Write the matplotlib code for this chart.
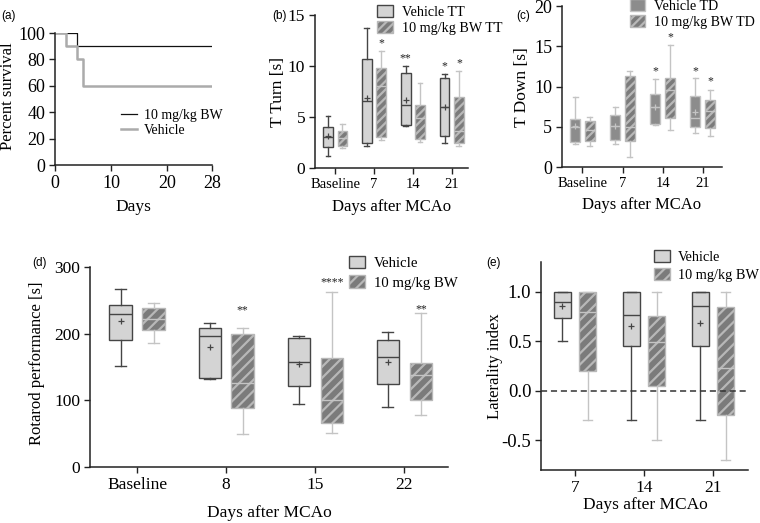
import matplotlib
matplotlib.use('Agg')
import matplotlib.pyplot as plt
from matplotlib.patches import Patch
from matplotlib.lines import Line2D

plt.rcParams['font.family'] = ['Liberation Serif', 'DejaVu Serif']
plt.rcParams['axes.unicode_minus'] = False
plt.rcParams['hatch.linewidth'] = 1.6

# ---------------- data ----------------
# (a) survival
surv_days_bw = [0, 4, 28]
surv_bw = [100, 90, 90]
surv_days_veh = [0, 2, 4, 5, 28]
surv_veh = [100, 90, 80, 60, 60]

# (b) T Turn
b_groups = ['Baseline', '7', '14', '21']
b_veh_whislo = [1.2, 2.15, 4.1, 2.5]
b_veh_q1 = [2.05, 2.45, 4.25, 3.1]
b_veh_med = [3.0, 6.6, 6.2, 5.95]
b_veh_q3 = [4.0, 10.7, 9.3, 8.85]
b_veh_whishi = [5.05, 13.7, 10.0, 9.2]
b_veh_mean = [3.1, 6.85, 6.7, 5.95]
b_bw_whislo = [1.95, 2.75, 2.55, 2.2]
b_bw_q1 = [2.15, 3.05, 2.8, 2.45]
b_bw_med = [2.9, 8.05, 4.95, 3.6]
b_bw_q3 = [3.65, 9.8, 6.2, 7.0]
b_bw_whishi = [4.3, 11.5, 8.3, 9.55]
b_sig_group = [1, 2, 3, 3]
b_sig_series = ['bw', 'veh', 'veh', 'bw']
b_sig_text = ['*', '**', '*', '*']
b_sig_y = [12.5, 11.1, 10.3, 10.6]

# (c) T Down
c_groups = ['Baseline', '7', '14', '21']
c_veh_whislo = [2.85, 2.85, 5.2, 4.27]
c_veh_q1 = [3.15, 3.3, 5.4, 4.93]
c_veh_med = [5.0, 5.1, 7.4, 6.13]
c_veh_q3 = [5.95, 6.5, 9.1, 8.86]
c_veh_whishi = [8.75, 7.4, 10.9, 11.0]
c_veh_mean = [5.1, 5.1, 7.5, 6.87]
c_bw_whislo = [2.6, 1.2, 4.6, 3.9]
c_bw_q1 = [3.2, 3.2, 6.12, 4.9]
c_bw_med = [4.6, 4.95, 9.55, 7.0]
c_bw_q3 = [5.75, 11.35, 11.1, 8.32]
c_bw_whishi = [6.25, 11.97, 15.15, 9.56]
c_sig_group = [2, 2, 3, 3]
c_sig_series = ['veh', 'bw', 'veh', 'bw']
c_sig_text = ['*', '*', '*', '*']
c_sig_y = [12.3, 16.5, 12.26, 11.0]

# (d) Rotarod
d_groups = ['Baseline', '8', '15', '22']
d_veh_whislo = [151.5, 131.5, 95, 90]
d_veh_q1 = [190, 134, 121, 124]
d_veh_med = [229.5, 196.5, 158, 164.6]
d_veh_q3 = [243, 209, 193, 191]
d_veh_whishi = [267, 216.5, 197, 202]
d_veh_mean = [219, 179.5, 154.5, 157]
d_bw_whislo = [186.5, 50, 51, 78]
d_bw_q1 = [205.5, 89, 66, 101]
d_bw_med = [221.5, 126, 100, 138]
d_bw_q3 = [238, 200, 164, 156.5]
d_bw_whishi = [245.5, 208, 262, 231]
d_sig_group = [1, 2, 3]
d_sig_series = ['bw', 'bw', 'bw']
d_sig_text = ['**', '****', '**']
d_sig_y = [240, 282, 241.5]

# (e) Laterality index
e_groups = ['7', '14', '21']
e_veh_whislo = [0.5, -0.3, -0.3]
e_veh_q1 = [0.73, 0.45, 0.45]
e_veh_med = [0.9, 0.76, 0.855]
e_veh_q3 = [1.0, 1.0, 1.0]
e_veh_whishi = [1.0, 1.0, 1.0]
e_veh_mean = [0.855, 0.65, 0.68]
e_bw_whislo = [-0.3, -0.5, -0.7]
e_bw_q1 = [0.2, 0.05, -0.245]
e_bw_med = [0.8, 0.495, 0.23]
e_bw_q3 = [1.0, 0.75, 0.85]
e_bw_whishi = [1.0, 1.0, 1.0]

# ---------------- style ----------------
LIGHT = '#d4d4d4'
DARK = '#454545'
BWFACE = '#7b7b7b'
BWHATCH = '#b8b8b8'
MIDFACE = '#8c8c8c'
PALE = '#c4c4c4'
OFF = 0.185
BW_W = 0.25

W, H = 760, 523
fig = plt.figure(figsize=(7.6, 5.23), dpi=100)


def add_axes(l, t, r, b):
    ax = fig.add_axes([l / W, 1 - b / H, (r - l) / W, (b - t) / H])
    for s in ('top', 'right'):
        ax.spines[s].set_visible(False)
    for s in ('left', 'bottom'):
        ax.spines[s].set_linewidth(1.1)
        ax.spines[s].set_color('#222222')
    ax.tick_params(direction='out', length=4, width=1.0, color='#222222', pad=3)
    return ax


def ftext(x, y, s, **kw):
    fig.text(x / W, 1 - y / H, s, **kw)


def make_stats(lo, q1, med, q3, hi, mean=None):
    out = []
    for i in range(len(lo)):
        d = dict(whislo=lo[i], q1=q1[i], med=med[i], q3=q3[i], whishi=hi[i], fliers=[])
        if mean is not None:
            d['mean'] = mean[i]
        out.append(d)
    return out


def draw_boxes(ax, stats, positions, face, edge, line, hatch=None, mean_color=None):
    showmeans = mean_color is not None
    ax.bxp(stats, positions=positions, widths=BW_W, capwidths=BW_W * 0.5,
           patch_artist=True, showmeans=showmeans, showfliers=False,
           manage_ticks=False,
           boxprops=dict(facecolor=face, edgecolor=edge, linewidth=1.0, hatch=hatch),
           whiskerprops=dict(color=line, linewidth=1.0),
           capprops=dict(color=line, linewidth=1.0),
           medianprops=dict(color=line, linewidth=1.0),
           meanprops=dict(marker='+', markeredgecolor=mean_color if mean_color else line,
                          markersize=5, markeredgewidth=0.9))


def draw_sig(ax, groups, series, texts, ys, fs):
    for g, s, t, y in zip(groups, series, texts, ys):
        x = g + (OFF if s == 'bw' else -OFF)
        ax.annotate(t, (x, y), xytext=(0, -4.5), textcoords='offset points',
                    ha='center', va='baseline', fontsize=fs, color='#222222')


def legend_boxes(ax, handles, labels, x, y, fs, spacing, hl=1.3):
    ax.legend(handles, labels, loc='upper left', bbox_to_anchor=(x / W, 1 - y / H),
              bbox_transform=fig.transFigure, frameon=False, fontsize=fs,
              borderpad=0, borderaxespad=0, handlelength=hl, handleheight=0.9,
              handletextpad=0.6, labelspacing=spacing)


# ---------------- (a) ----------------
axa = add_axes(55, 33, 212, 165)
axa.step(surv_days_bw, surv_bw, where='post', color='#111111', lw=0.9,
         label='10 mg/kg BW')
axa.step(surv_days_veh, surv_veh, where='post', color='#ababab', lw=1.8,
         label='Vehicle')
axa.set_xlim(0, 28)
axa.set_ylim(0, 100)
axa.set_xticks([0, 10, 20, 28])
axa.set_yticks([0, 20, 40, 60, 80, 100])
axa.tick_params(labelsize=13)
axa.legend(handles=[Line2D([], [], color='#111111', lw=0.9),
                    Line2D([], [], color='#ababab', lw=1.8)],
           labels=['10 mg/kg BW', 'Vehicle'], loc='upper left',
           bbox_to_anchor=(121 / W, 1 - 109 / H), bbox_transform=fig.transFigure,
           frameon=False, fontsize=10, borderpad=0, borderaxespad=0,
           handlelength=1.15, handletextpad=0.5, labelspacing=0.15)
ftext(8, 96, 'Percent survival', rotation=90, ha='center', va='center', fontsize=12)
ftext(133.5, 207, 'Days', ha='center', va='center', fontsize=12.5)
ftext(1, 16, '(a)', ha='left', va='center', fontsize=8.5, family='Liberation Sans')

# ---------------- (b) ----------------
axb = add_axes(315, 15, 468, 168)
xb = list(range(len(b_groups)))
draw_boxes(axb, make_stats(b_veh_whislo, b_veh_q1, b_veh_med, b_veh_q3, b_veh_whishi, b_veh_mean),
           [x - OFF for x in xb], LIGHT, DARK, DARK, mean_color=DARK)
draw_boxes(axb, make_stats(b_bw_whislo, b_bw_q1, b_bw_med, b_bw_q3, b_bw_whishi),
           [x + OFF for x in xb], BWFACE, BWHATCH, PALE, hatch='////')
axb.set_xlim(-0.52, 3.42)
axb.set_ylim(0, 15)
axb.set_yticks([0, 5, 10, 15])
axb.set_xticks(xb)
axb.set_xticklabels(b_groups)
axb.tick_params(axis='x', labelsize=10.5)
axb.tick_params(axis='y', labelsize=12.5)
draw_sig(axb, b_sig_group, b_sig_series, b_sig_text, b_sig_y, 8.5)
legend_boxes(axb, [Patch(facecolor=LIGHT, edgecolor=DARK, lw=1.0),
                   Patch(facecolor=BWFACE, edgecolor=BWHATCH, hatch='////', lw=1.0)],
             ['Vehicle TT', '10 mg/kg BW TT'], 377, 5, 10.2, 0.15, hl=1.15)
ftext(278, 92, 'T Turn [s]', rotation=90, ha='center', va='center', fontsize=12.5)
ftext(392, 207, 'Days after MCAo', ha='center', va='center', fontsize=12)
ftext(272, 16, '(b)', ha='left', va='center', fontsize=8.5, family='Liberation Sans')

# ---------------- (c) ----------------
axc = add_axes(562, 6, 722, 167)
xc = list(range(len(c_groups)))
draw_boxes(axc, make_stats(c_veh_whislo, c_veh_q1, c_veh_med, c_veh_q3, c_veh_whishi, c_veh_mean),
           [x - OFF for x in xc], MIDFACE, PALE, PALE, mean_color=PALE)
draw_boxes(axc, make_stats(c_bw_whislo, c_bw_q1, c_bw_med, c_bw_q3, c_bw_whishi),
           [x + OFF for x in xc], BWFACE, BWHATCH, PALE, hatch='////')
axc.set_xlim(-0.51, 3.48)
axc.set_ylim(0, 20)
axc.set_yticks([0, 5, 10, 15, 20])
axc.set_xticks(xc)
axc.set_xticklabels(c_groups)
axc.tick_params(axis='x', labelsize=10.5)
axc.tick_params(axis='y', labelsize=13)
draw_sig(axc, c_sig_group, c_sig_series, c_sig_text, c_sig_y, 8.5)
legend_boxes(axc, [Patch(facecolor=MIDFACE, edgecolor=PALE, lw=1.0),
                   Patch(facecolor=BWFACE, edgecolor=BWHATCH, hatch='////', lw=1.0)],
             ['Vehicle TD', '10 mg/kg BW TD'], 630, -1, 10.1, 0.2, hl=1.1)
ftext(522, 87, 'T Down [s]', rotation=90, ha='center', va='center', fontsize=12.5)
ftext(642, 205, 'Days after MCAo', ha='center', va='center', fontsize=12)
ftext(516, 16, '(c)', ha='left', va='center', fontsize=8.5, family='Liberation Sans')

# ---------------- (d) ----------------
axd = add_axes(90, 267, 448, 467)
xd = list(range(len(d_groups)))
draw_boxes(axd, make_stats(d_veh_whislo, d_veh_q1, d_veh_med, d_veh_q3, d_veh_whishi, d_veh_mean),
           [x - OFF for x in xd], LIGHT, DARK, DARK, mean_color=DARK)
draw_boxes(axd, make_stats(d_bw_whislo, d_bw_q1, d_bw_med, d_bw_q3, d_bw_whishi),
           [x + OFF for x in xd], BWFACE, BWHATCH, PALE, hatch='///')
axd.set_xlim(-0.528, 3.49)
axd.set_ylim(0, 300)
axd.set_yticks([0, 100, 200, 300])
axd.set_xticks(xd)
axd.set_xticklabels(d_groups)
axd.tick_params(labelsize=12.5)
draw_sig(axd, d_sig_group, d_sig_series, d_sig_text, d_sig_y, 8.5)
legend_boxes(axd, [Patch(facecolor=LIGHT, edgecolor=DARK, lw=1.0),
                   Patch(facecolor=BWFACE, edgecolor=BWHATCH, hatch='///', lw=1.0)],
             ['Vehicle', '10 mg/kg BW'], 349, 256, 10.6, 0.35, hl=1.1)
ftext(37, 363, 'Rotarod performance [s]', rotation=90, ha='center', va='center', fontsize=12)
ftext(269, 513, 'Days after MCAo', ha='center', va='center', fontsize=12.5)
ftext(32, 263, '(d)', ha='left', va='center', fontsize=8.5, family='Liberation Sans')

# ---------------- (e) ----------------
axe = add_axes(541, 262, 748, 470)
xe = list(range(len(e_groups)))
axe.axhline(0, color='#333333', lw=1.1, ls=(0, (4, 2.5)), zorder=3)
draw_boxes(axe, make_stats(e_veh_whislo, e_veh_q1, e_veh_med, e_veh_q3, e_veh_whishi, e_veh_mean),
           [x - OFF for x in xe], LIGHT, DARK, DARK, mean_color=DARK)
draw_boxes(axe, make_stats(e_bw_whislo, e_bw_q1, e_bw_med, e_bw_q3, e_bw_whishi),
           [x + OFF for x in xe], BWFACE, BWHATCH, PALE, hatch='///')
axe.set_xlim(-0.493, 2.507)
axe.set_ylim(-0.8, 1.3)
axe.set_yticks([-0.5, 0.0, 0.5, 1.0])
axe.set_yticklabels(['-0.5', '0.0', '0.5', '1.0'])
axe.set_xticks(xe)
axe.set_xticklabels(e_groups)
axe.tick_params(axis='x', labelsize=12.5)
axe.tick_params(axis='y', labelsize=13.5)
legend_boxes(axe, [Patch(facecolor=LIGHT, edgecolor=DARK, lw=1.0),
                   Patch(facecolor=BWFACE, edgecolor=BWHATCH, hatch='///', lw=1.0)],
             ['Vehicle', '10 mg/kg BW'], 654, 250, 10.3, 0.3, hl=1.1)
ftext(495, 366, 'Laterality index', rotation=90, ha='center', va='center', fontsize=12)
ftext(645, 505, 'Days after MCAo', ha='center', va='center', fontsize=12.5)
ftext(486, 263, '(e)', ha='left', va='center', fontsize=8.5, family='Liberation Sans')

fig.savefig('out.png', dpi=100)
